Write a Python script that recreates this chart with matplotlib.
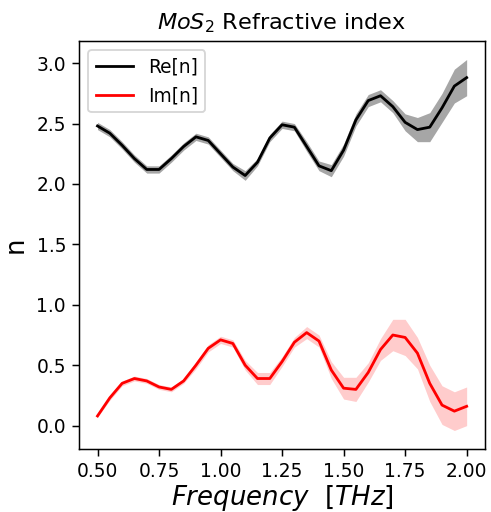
import numpy as np
import matplotlib
matplotlib.use("Agg")
import matplotlib.pyplot as plt
from matplotlib.ticker import MultipleLocator, FormatStrFormatter

# frequency grid [THz]
freq = [0.50, 0.55, 0.60, 0.65, 0.70, 0.75, 0.80, 0.85, 0.90, 0.95,
        1.00, 1.05, 1.10, 1.15, 1.20, 1.25, 1.30, 1.35, 1.40, 1.45,
        1.50, 1.55, 1.60, 1.65, 1.70, 1.75, 1.80, 1.85, 1.90, 1.95, 2.00]

re_n = [2.48, 2.42, 2.32, 2.21, 2.12, 2.12, 2.21, 2.31, 2.39, 2.36,
        2.25, 2.14, 2.07, 2.18, 2.38, 2.49, 2.47, 2.31, 2.15, 2.11,
        2.28, 2.53, 2.69, 2.73, 2.64, 2.51, 2.45, 2.47, 2.63, 2.81, 2.88]
re_err = [0.03, 0.03, 0.03, 0.03, 0.03, 0.03, 0.03, 0.03, 0.03, 0.03,
          0.03, 0.03, 0.04, 0.03, 0.03, 0.03, 0.03, 0.04, 0.04, 0.05,
          0.05, 0.05, 0.05, 0.05, 0.05, 0.07, 0.10, 0.12, 0.12, 0.14, 0.15]

im_n = [0.08, 0.23, 0.35, 0.39, 0.37, 0.32, 0.30, 0.37, 0.50, 0.64,
        0.71, 0.68, 0.50, 0.39, 0.39, 0.53, 0.69, 0.77, 0.70, 0.46,
        0.31, 0.30, 0.44, 0.63, 0.75, 0.73, 0.60, 0.35, 0.17, 0.12, 0.16]
im_err = [0.01, 0.02, 0.02, 0.02, 0.02, 0.02, 0.02, 0.02, 0.03, 0.03,
          0.03, 0.03, 0.04, 0.05, 0.05, 0.04, 0.04, 0.05, 0.05, 0.07,
          0.09, 0.10, 0.08, 0.09, 0.13, 0.15, 0.13, 0.15, 0.16, 0.16, 0.16]

f = np.array(freq)
re = np.array(re_n)
im = np.array(im_n)
re_e = np.array(re_err)
im_e = np.array(im_err)

DPI = 134
fig = plt.figure(figsize=(491 / DPI, 512 / DPI), dpi=DPI)
ax = fig.add_axes([0.161, 0.123, 0.827, 0.797])

ax.fill_between(f, re - re_e, re + re_e, color="gray", alpha=0.7, linewidth=0)
ax.plot(f, re, color="black", label="Re[n]")
ax.fill_between(f, im - im_e, im + im_e, color="red", alpha=0.2, linewidth=0)
ax.plot(f, im, color="red", label="Im[n]")

ax.xaxis.set_major_locator(MultipleLocator(0.25))
ax.xaxis.set_major_formatter(FormatStrFormatter("%.2f"))
ax.yaxis.set_major_locator(MultipleLocator(0.5))

ax.set_title(r"$MoS_2$ Refractive index", fontsize=12)
ax.set_xlabel(r"$Frequency\ \ [THz]$", fontsize=14, labelpad=1)
ax.set_ylabel("n", fontsize=14)
ax.legend(loc="upper left")

fig.savefig("out.png", dpi=DPI)
